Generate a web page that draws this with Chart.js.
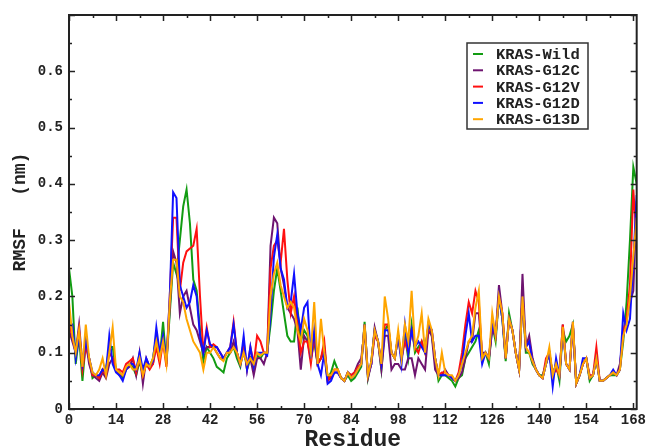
<!DOCTYPE html>
<html><head><meta charset="utf-8">
<script src="https://cdn.jsdelivr.net/npm/chart.js@4/dist/chart.umd.min.js"></script>
<style>html,body{margin:0;padding:0;background:#fff}#wrap{width:649px;height:446px}</style>
</head><body><div id="wrap"><canvas id="c" width="649" height="446"></canvas></div>
<script>
const residues = Array.from({length:170},(_,i)=>i);
const xTicks = [0,14,28,42,56,70,84,98,112,126,140,154,168];
const yTicks = [0,0.1,0.2,0.3,0.4,0.5,0.6];
const seriesNames = ['KRAS-Wild','KRAS-G12C','KRAS-G12V','KRAS-G12D','KRAS-G13D'];
const seriesColors = ['#129c12','#6e1470','#ff1010','#1010ff','#ffa500'];

const wild = [
0.25,0.2,0.08,0.13,0.05,0.12,0.09,0.055,0.06,0.055,0.07,0.07,0.11,0.11,
0.07,0.065,0.055,0.07,0.08,0.075,0.06,0.085,0.06,0.08,0.075,0.09,0.13,0.09,
0.155,0.08,0.17,0.26,0.24,0.30,0.36,0.39,0.33,0.23,0.21,0.14,0.085,0.11,
0.10,0.09,0.075,0.07,0.065,0.09,0.10,0.11,0.09,0.075,0.11,0.07,0.09,0.075,
0.095,0.09,0.1,0.1,0.15,0.21,0.25,0.21,0.17,0.13,0.12,0.12,0.18,0.12,
0.14,0.13,0.09,0.12,0.08,0.09,0.11,0.055,0.065,0.085,0.07,0.055,0.05,0.06,
0.05,0.055,0.065,0.075,0.155,0.055,0.085,0.14,0.12,0.07,0.14,0.15,0.1,0.09,
0.13,0.09,0.13,0.09,0.15,0.1,0.11,0.12,0.1,0.15,0.13,0.09,0.05,0.06,
0.06,0.055,0.05,0.04,0.055,0.06,0.09,0.10,0.11,0.12,0.14,0.09,0.1,0.08,
0.15,0.12,0.2,0.16,0.085,0.17,0.14,0.1,0.07,0.2,0.1,0.1,0.08,0.07,
0.06,0.06,0.08,0.1,0.06,0.08,0.05,0.14,0.12,0.13,0.15,0.045,0.06,0.08,
0.09,0.05,0.06,0.09,0.05,0.05,0.055,0.06,0.06,0.06,0.07,0.12,0.19,0.3,0.43,0.4];

const g12c = [
0.14,0.12,0.1,0.15,0.08,0.12,0.08,0.06,0.055,0.05,0.065,0.055,0.08,0.09,
0.07,0.06,0.06,0.07,0.075,0.09,0.06,0.1,0.045,0.09,0.075,0.08,0.12,0.1,
0.12,0.085,0.18,0.28,0.26,0.17,0.2,0.21,0.18,0.15,0.14,0.12,0.1,0.11,
0.11,0.11,0.1,0.09,0.09,0.1,0.1,0.12,0.1,0.08,0.1,0.08,0.09,0.06,
0.09,0.09,0.08,0.1,0.29,0.34,0.33,0.25,0.22,0.18,0.17,0.16,0.14,0.07,
0.13,0.12,0.09,0.13,0.08,0.09,0.1,0.05,0.055,0.065,0.065,0.055,0.05,0.065,
0.06,0.065,0.08,0.09,0.14,0.055,0.08,0.145,0.12,0.07,0.13,0.13,0.07,0.08,
0.08,0.07,0.07,0.09,0.09,0.06,0.09,0.08,0.07,0.14,0.13,0.07,0.06,0.06,
0.07,0.06,0.055,0.05,0.055,0.065,0.09,0.12,0.12,0.17,0.17,0.1,0.1,0.09,
0.14,0.13,0.22,0.17,0.09,0.16,0.14,0.1,0.07,0.24,0.11,0.13,0.09,0.07,
0.06,0.055,0.08,0.1,0.06,0.08,0.06,0.15,0.08,0.07,0.155,0.045,0.06,0.08,
0.09,0.055,0.06,0.09,0.05,0.05,0.055,0.06,0.065,0.06,0.08,0.13,0.16,0.19,0.21,0.37];

const g12v = [
0.15,0.13,0.1,0.14,0.07,0.11,0.09,0.06,0.06,0.055,0.07,0.06,0.1,0.09,
0.07,0.07,0.065,0.08,0.085,0.09,0.065,0.09,0.06,0.08,0.07,0.08,0.11,0.08,
0.12,0.075,0.2,0.34,0.34,0.21,0.26,0.28,0.285,0.29,0.32,0.2,0.1,0.145,
0.11,0.115,0.11,0.1,0.09,0.1,0.11,0.155,0.1,0.08,0.12,0.07,0.11,0.08,
0.13,0.12,0.1,0.1,0.25,0.29,0.3,0.26,0.32,0.23,0.17,0.2,0.15,0.1,
0.12,0.12,0.08,0.13,0.08,0.09,0.12,0.05,0.06,0.07,0.07,0.055,0.05,0.065,
0.06,0.065,0.075,0.08,0.15,0.06,0.08,0.13,0.12,0.08,0.15,0.15,0.1,0.09,
0.13,0.09,0.12,0.1,0.14,0.11,0.1,0.12,0.1,0.14,0.14,0.09,0.06,0.065,
0.065,0.06,0.055,0.05,0.065,0.1,0.15,0.19,0.17,0.21,0.19,0.09,0.1,0.09,
0.15,0.13,0.2,0.17,0.09,0.16,0.14,0.1,0.07,0.2,0.11,0.12,0.085,0.07,
0.06,0.055,0.09,0.1,0.06,0.07,0.06,0.15,0.08,0.07,0.15,0.045,0.06,0.08,
0.09,0.06,0.06,0.11,0.05,0.05,0.055,0.06,0.065,0.06,0.07,0.14,0.16,0.22,0.39,0.3];

const g12d = [
0.15,0.15,0.09,0.13,0.08,0.12,0.09,0.065,0.06,0.06,0.07,0.065,0.13,0.08,
0.065,0.06,0.05,0.07,0.08,0.08,0.07,0.1,0.07,0.09,0.075,0.085,0.145,0.1,
0.13,0.085,0.2,0.385,0.375,0.22,0.2,0.18,0.19,0.22,0.2,0.13,0.1,0.14,
0.115,0.11,0.11,0.1,0.09,0.1,0.11,0.15,0.1,0.08,0.13,0.07,0.11,0.075,
0.1,0.1,0.1,0.095,0.17,0.27,0.31,0.25,0.23,0.18,0.19,0.24,0.17,0.14,
0.18,0.19,0.09,0.14,0.08,0.06,0.1,0.045,0.05,0.065,0.065,0.055,0.05,0.065,
0.055,0.06,0.07,0.08,0.15,0.06,0.08,0.14,0.12,0.08,0.14,0.14,0.1,0.09,
0.13,0.08,0.15,0.1,0.14,0.11,0.12,0.11,0.1,0.15,0.14,0.09,0.06,0.06,
0.06,0.06,0.055,0.05,0.06,0.08,0.13,0.17,0.12,0.13,0.13,0.08,0.1,0.09,
0.15,0.13,0.2,0.16,0.09,0.16,0.14,0.1,0.07,0.2,0.11,0.12,0.085,0.07,
0.06,0.055,0.08,0.1,0.04,0.09,0.06,0.14,0.08,0.07,0.15,0.045,0.06,0.09,
0.09,0.055,0.06,0.09,0.05,0.05,0.055,0.06,0.07,0.06,0.07,0.17,0.14,0.16,0.26,0.38];

const g13d = [
0.19,0.13,0.1,0.14,0.075,0.15,0.09,0.065,0.06,0.07,0.09,0.06,0.1,0.145,
0.07,0.065,0.06,0.075,0.08,0.07,0.07,0.09,0.06,0.08,0.075,0.09,0.12,0.09,
0.12,0.08,0.19,0.265,0.265,0.2,0.19,0.16,0.14,0.12,0.11,0.1,0.07,0.1,
0.1,0.11,0.1,0.09,0.085,0.1,0.1,0.11,0.1,0.08,0.1,0.08,0.09,0.08,
0.1,0.095,0.1,0.1,0.2,0.24,0.26,0.22,0.2,0.18,0.19,0.18,0.14,0.12,
0.16,0.14,0.1,0.19,0.08,0.16,0.1,0.06,0.06,0.07,0.07,0.055,0.05,0.065,
0.055,0.06,0.07,0.08,0.15,0.06,0.085,0.14,0.12,0.08,0.2,0.16,0.1,0.09,
0.14,0.09,0.15,0.12,0.21,0.11,0.13,0.17,0.1,0.16,0.14,0.09,0.06,0.1,
0.065,0.06,0.06,0.05,0.06,0.08,0.1,0.12,0.13,0.18,0.21,0.09,0.1,0.09,
0.17,0.13,0.2,0.17,0.09,0.16,0.14,0.1,0.07,0.2,0.11,0.1,0.085,0.07,
0.06,0.055,0.08,0.11,0.06,0.08,0.06,0.146,0.08,0.07,0.155,0.045,0.06,0.08,
0.09,0.055,0.06,0.09,0.05,0.05,0.055,0.06,0.065,0.06,0.07,0.13,0.15,0.2,0.27,0.34];

const allSeries = [wild, g12c, g12v, g12d, g13d];

const MONO = '"Liberation Mono", "DejaVu Sans Mono", monospace';

const framePlugin = {
  id: 'frame',
  afterDraw(chart) {
    const {ctx, chartArea: a, scales: {x, y}} = chart;
    ctx.save();
    ctx.strokeStyle = '#222';
    ctx.lineWidth = 1.5;
    ctx.beginPath();
    for (let v = 0; v <= 169; v += 7) {
      const px = Math.round(x.getPixelForValue(v)) + 0.5;
      const len = (v % 14 === 0) ? 6 : 3;
      ctx.moveTo(px, a.bottom); ctx.lineTo(px, a.bottom - len);
      ctx.moveTo(px, a.top); ctx.lineTo(px, a.top + len);
    }
    for (let i = 0; i <= 14; i++) {
      const v = i * 0.05;
      const py = Math.round(y.getPixelForValue(v)) + 0.5;
      const len = (i % 2 === 0) ? 6 : 3;
      ctx.moveTo(a.left, py); ctx.lineTo(a.left + len, py);
      ctx.moveTo(a.right, py); ctx.lineTo(a.right - len, py);
    }
    ctx.stroke();
    ctx.lineWidth = 2;
    ctx.strokeRect(a.left, a.top, a.right - a.left, a.bottom - a.top);
    const bx = 467, by = 43, bw = 121, bh = 86;
    ctx.lineWidth = 1.5;
    ctx.strokeStyle = '#333';
    ctx.fillStyle = '#fff';
    ctx.fillRect(bx, by, bw, bh);
    ctx.strokeRect(bx, by, bw, bh);
    ctx.font = 'bold 15.5px ' + MONO;
    ctx.textBaseline = 'middle';
    ctx.textAlign = 'left';
    seriesNames.forEach((n, i) => {
      const ly = by + 11 + i * 16.3;
      ctx.strokeStyle = seriesColors[i];
      ctx.lineWidth = 2;
      ctx.beginPath();
      ctx.moveTo(bx + 6, ly); ctx.lineTo(bx + 16, ly);
      ctx.stroke();
      ctx.fillStyle = '#222';
      ctx.fillText(n, bx + 29, ly + 1);
    });
    ctx.restore();
  }
};

const datasets = allSeries.map((s, i) => ({
  label: seriesNames[i],
  data: s.map((v, j) => ({x: residues[j], y: v})),
  borderColor: seriesColors[i],
  borderWidth: 2,
  pointRadius: 0,
  tension: 0,
  fill: false,
  order: 5 - i
}));

new Chart(document.getElementById('c'), {
  type: 'line',
  data: { datasets },
  options: {
    responsive: false,
    animation: false,
    layout: { padding: { top: 15, right: 12, left: 0, bottom: 0 } },
    plugins: { legend: { display: false }, tooltip: { enabled: false } },
    scales: {
      x: {
        type: 'linear', min: 0, max: 169,
        afterFit(s) { s.height = 37; },
        afterBuildTicks(s) { s.ticks = xTicks.map(v => ({value: v})); },
        grid: { display: false, drawTicks: false },
        border: { display: false },
        ticks: { font: { family: MONO, size: 14, weight: 'bold' }, color: '#222', padding: 3, maxRotation: 0, autoSkip: false },
        title: { display: true, text: 'Residue', color: '#222', font: { family: MONO, size: 23, weight: 'bold' }, padding: { top: 0, bottom: -8 } }
      },
      y: {
        min: 0, max: 0.7,
        afterFit(s) { s.width = 69; },
        afterBuildTicks(s) { s.ticks = yTicks.map(v => ({value: v})); },
        grid: { display: false, drawTicks: false },
        border: { display: false },
        ticks: { font: { family: MONO, size: 14, weight: 'bold' }, color: '#222', padding: 6,
          callback: v => v === 0 ? '0' : v.toFixed(1) },
        title: { display: true, text: 'RMSF   (nm)', color: '#222', font: { family: MONO, size: 18, weight: 'bold' }, padding: { top: 10, bottom: 0 } }
      }
    }
  },
  plugins: [framePlugin]
});
</script></body></html>
